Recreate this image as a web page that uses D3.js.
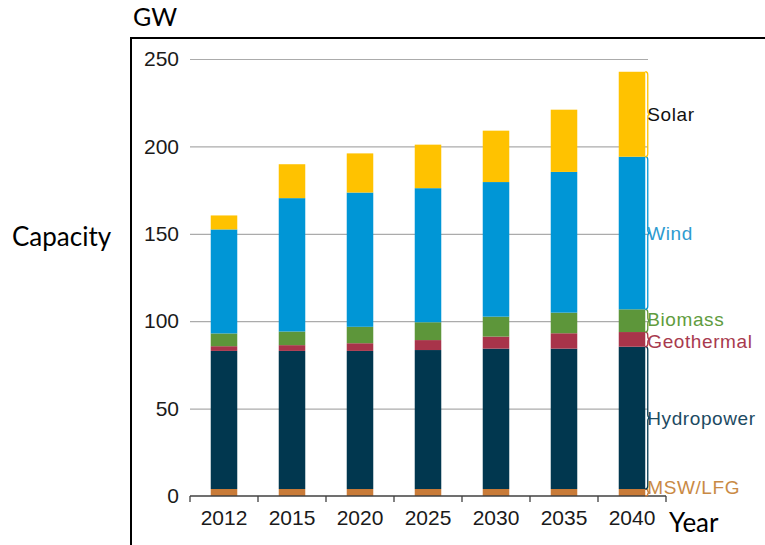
<!DOCTYPE html>
<html>
<head>
<meta charset="utf-8">
<script src="https://cdn.jsdelivr.net/npm/d3@7/dist/d3.min.js"></script>
<style>
  html, body { margin: 0; padding: 0; background: #fff; }
  svg { display: block; }
</style>
</head>
<body>
<svg id="chart" width="765" height="545"></svg>
<script>
// Renewable capacity by source (GW), stacked per year
const years = ["2012", "2015", "2020", "2025", "2030", "2035", "2040"];
const seriesNames = ["MSW/LFG", "Hydropower", "Geothermal", "Biomass", "Wind", "Solar"];
const mswValues        = [4, 4, 4, 4, 4, 4, 4];
const hydropowerValues = [79, 79, 79, 79.5, 80.3, 80.3, 81.4];
const geothermalValues = [2.7, 3.3, 4.4, 5.7, 6.9, 8.8, 8.4];
const biomassValues    = [7.3, 7.8, 9.4, 10.2, 11.4, 11.8, 13.0];
const windValues       = [59.5, 76.3, 76.8, 76.7, 77, 80.5, 87.3];
const solarValues      = [8, 19.4, 22.4, 24.9, 29.4, 35.6, 48.6];
const yTicks = [0, 50, 100, 150, 200, 250];

const barColors   = ["#C97B38", "#01374F", "#A8344A", "#5D963A", "#0096D6", "#FFC200"];
const labelColors = ["#C98A45", "#1C4A62", "#A83A4E", "#5F9C3E", "#2E9BD0", "#111111"];

const rows = years.map((yr, i) => ({
  year: yr,
  "MSW/LFG": mswValues[i],
  "Hydropower": hydropowerValues[i],
  "Geothermal": geothermalValues[i],
  "Biomass": biomassValues[i],
  "Wind": windValues[i],
  "Solar": solarValues[i]
}));
const stacked = d3.stack().keys(seriesNames)(rows);

const svg = d3.select("#chart");

// outer frame (top and left rules)
svg.append("path")
  .attr("d", "M131,545 L131,38 L765,38")
  .attr("fill", "none").attr("stroke", "#000").attr("stroke-width", 2);

const x0 = 190, x1 = 666, gridEnd = 648;
const y = d3.scaleLinear().domain([0, 250]).range([496, 59]);
const xBand = d3.scaleBand().domain(years).range([x0, x1]).padding(0);
const xBar = d3.scaleBand().domain(years).range([x0, x1]).paddingInner(0.61).paddingOuter(0.305);

// gridlines
const grid = svg.append("g").attr("transform", `translate(${x0},0)`)
  .call(d3.axisLeft(y).tickValues(yTicks.filter(d => d > 0)).tickSize(-(gridEnd - x0)).tickFormat(""));
grid.select(".domain").remove();
grid.selectAll("line").attr("stroke", "#ABABAB").attr("stroke-width", 1.2);

// y tick labels
const yAxis = svg.append("g").attr("transform", `translate(${x0},0)`)
  .call(d3.axisLeft(y).tickValues(yTicks).tickSize(0).tickPadding(11));
yAxis.select(".domain").remove();
yAxis.selectAll("text")
  .attr("font-family", "Liberation Sans, Arial, sans-serif")
  .attr("font-size", 21).attr("fill", "#1a1a1a");

// stacked bars
svg.append("g").selectAll("g")
  .data(stacked).join("g")
  .attr("fill", (d, i) => barColors[i])
  .selectAll("rect")
  .data(d => d).join("rect")
  .attr("x", d => xBar(d.data.year))
  .attr("width", xBar.bandwidth())
  .attr("y", d => y(d[1]))
  .attr("height", d => y(d[0]) - y(d[1]));

// x axis: baseline with ticks at category boundaries
const xAxis = svg.append("g");
xAxis.append("line")
  .attr("x1", x0).attr("x2", x1).attr("y1", y(0)).attr("y2", y(0))
  .attr("stroke", "#404040").attr("stroke-width", 1.3);
const bounds = years.map(d => xBand(d)).concat([x1]);
xAxis.selectAll("line.tick").data(bounds).join("line")
  .attr("class", "tick")
  .attr("x1", d => d).attr("x2", d => d)
  .attr("y1", y(0)).attr("y2", y(0) + 6)
  .attr("stroke", "#404040").attr("stroke-width", 1.3);
const xLabels = svg.append("g").attr("transform", `translate(0,${y(0)})`)
  .call(d3.axisBottom(xBand).tickSize(0).tickPadding(14));
xLabels.select(".domain").remove();
xLabels.selectAll("text")
  .attr("font-family", "Liberation Sans, Arial, sans-serif")
  .attr("font-size", 21).attr("fill", "#1a1a1a");

// braces and series labels beside the last bar
const last = years.length - 1;
const bx = xBar(years[last]) + xBar.bandwidth();
function brace(ya, yb) {
  const ym = (ya + yb) / 2, r = Math.min(3, (yb - ya) / 4);
  const xa = bx, xm = bx + 2.5, xt = bx + 5;
  return `M${xa},${ya} Q${xm},${ya} ${xm},${ya + r} L${xm},${ym - r} Q${xm},${ym} ${xt},${ym}` +
         ` Q${xm},${ym} ${xm},${ym + r} L${xm},${yb - r} Q${xm},${yb} ${xa},${yb}`;
}
const side = svg.append("g");
side.selectAll("path").data(stacked).join("path")
  .attr("d", s => brace(y(s[last][1]), y(s[last][0])))
  .attr("fill", "none")
  .attr("stroke", (d, i) => barColors[i])
  .attr("stroke-width", 1.3);
const labelOffset = { "MSW/LFG": -5, "Hydropower": 0, "Geothermal": 1.5, "Biomass": -1.5, "Wind": 0, "Solar": 0 };
side.selectAll("text").data(stacked).join("text")
  .attr("x", bx + 2)
  .attr("y", s => (y(s[last][1]) + y(s[last][0])) / 2 + labelOffset[s.key])
  .attr("dy", "0.35em")
  .attr("font-family", "Liberation Sans, Arial, sans-serif")
  .attr("font-size", 19)
  .attr("letter-spacing", 0.6)
  .attr("fill", (d, i) => labelColors[i])
  .text(s => s.key);

// axis titles
const titleFont = "Lato, 'Open Sans', sans-serif";
svg.append("text").attr("x", 133).attr("y", 26)
  .attr("font-family", titleFont).attr("font-size", 25).attr("fill", "#000").text("GW");
svg.append("text").attr("x", 12).attr("y", 246)
  .attr("font-family", titleFont).attr("font-size", 26).attr("fill", "#000").text("Capacity");
svg.append("text").attr("x", 669).attr("y", 532)
  .attr("font-family", titleFont).attr("font-size", 26).attr("fill", "#000").text("Year");
</script>
</body>
</html>
